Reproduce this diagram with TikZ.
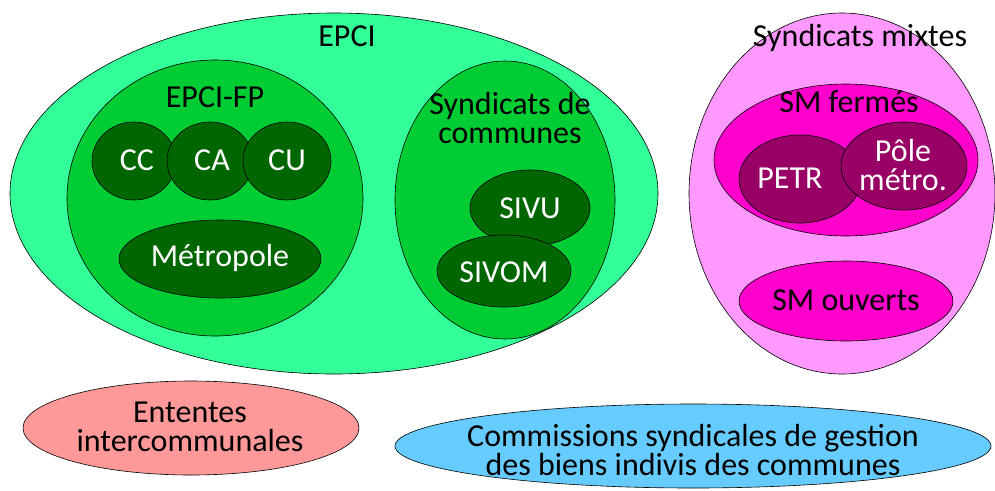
\documentclass[tikz,border=0pt]{standalone}
\usepackage{fontspec}
\setmainfont{Carlito}
\usetikzlibrary{shapes.geometric}
\definecolor{epci}{HTML}{33FF99}
\definecolor{epcifp}{HTML}{00CC33}
\definecolor{dkgreen}{HTML}{006600}
\definecolor{smix}{HTML}{FF99FF}
\definecolor{smferm}{HTML}{FF00CC}
\definecolor{petr}{HTML}{990066}
\definecolor{entente}{HTML}{FF9999}
\definecolor{commis}{HTML}{66CCFF}
\tikzset{
  ell/.style={ellipse, draw=black, line width=0.6pt, inner sep=0pt},
  lbl/.style={font=\fontsize{32}{31}\selectfont, align=center, inner sep=0pt, text=black},
  wlbl/.style={lbl, text=white}
}
\newcommand{\E}[5]{\node[ell, fill=#4, minimum width=#2*2pt, minimum height=#3*2pt] (#5) at #1 {};}
\begin{document}
\begin{tikzpicture}[x=1pt,y=-1pt]
\useasboundingbox (0,0) rectangle (995,490);
% EPCI
\E{(334,193.5)}{324}{180.5}{epci}{epci}
\node[lbl] (epcit) at (347,36) {EPCI};
\E{(215,198)}{148}{138}{epcifp}{epcifp}
\node[lbl] (epcifpt) at (215,97) {EPCI-FP};
\E{(134,161)}{42}{39}{dkgreen}{cc}
\E{(210,161)}{43}{39}{dkgreen}{ca}
\E{(287,161)}{44}{39}{dkgreen}{cu}
\node[wlbl] (cct) at (137,160) {CC};
\node[wlbl] (cat) at (212,160) {CA};
\node[wlbl] (cut) at (287,160) {CU};
\E{(220,259)}{101}{39}{dkgreen}{metro}
\node[wlbl] (metrot) at (220,258) {Métropole};
\E{(505,200)}{110}{139}{epcifp}{sdc}
\node[lbl] (sdct) at (510,118) {Syndicats de\\[-2pt]communes};
\E{(530,208)}{60}{38}{dkgreen}{sivu}
\node[wlbl] (sivut) at (530,208) {SIVU};
\E{(504,271)}{67}{36}{dkgreen}{sivom}
\node[wlbl] (sivomt) at (504,272) {SIVOM};
% Syndicats mixtes
\E{(842,193.5)}{153}{180.5}{smix}{smx}
\node[lbl] (smxt) at (860,38) {Syndicats mixtes};
\E{(846,160)}{132}{76}{smferm}{smf}
\node[lbl] (smft) at (849,102) {SM fermés};
\E{(800,179)}{61}{44}{petr}{petrn}
\E{(904,166)}{63}{44}{petr}{pole}
\node[wlbl] (petrt) at (790,178) {PETR};
\node[wlbl] (polet) at (903,165) {Pôle\\[-2pt]métro.};
\E{(846,301)}{107}{40}{smferm}{smo}
\node[lbl] (smot) at (846,300) {SM ouverts};
% Others
\E{(191,428)}{168}{47}{entente}{ent}
\node[lbl] (entt) at (190,427) {Ententes\\[-2pt]intercommunales};
\E{(693,446)}{298}{42}{commis}{com}
\node[lbl] (comt) at (693,450) {Commissions syndicales de gestion\\[-2pt]des biens indivis des communes};
\end{tikzpicture}
\end{document}
